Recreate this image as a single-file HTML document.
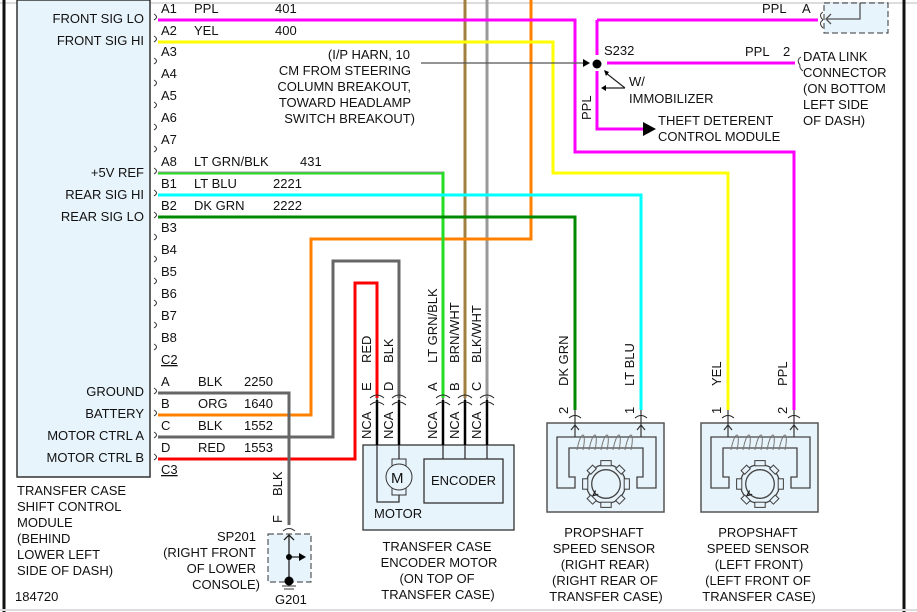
<!DOCTYPE html>
<html><head><meta charset="utf-8"><style>
html,body{margin:0;padding:0;background:#fff;}
svg{display:block;}
text{font-family:"Liberation Sans",Arial,sans-serif;font-size:13px;fill:#111;}
</style></head><body>
<svg width="917" height="612" viewBox="0 0 917 612" xmlns="http://www.w3.org/2000/svg">
<defs>
<g id="sens">
<rect x="0" y="0" width="117" height="89" fill="#e8f4fb" stroke="#555" stroke-width="1.5"/>
<path d="M10,65 L10,14 L109,14 L109,65 L90,65 L90,54 L96,54 L96,25 L22,25 L22,54 L28,54 L28,65 Z" fill="none" stroke="#444" stroke-width="1.3"/>
<path d="M30,27 C34,6 40,8 36,27 M42,27 C46,6 52,8 48,27 M54,27 C58,6 64,8 60,27 M66,27 C70,6 76,8 72,27 M78,27 C82,6 88,8 84,27" fill="none" stroke="#777" stroke-width="1"/>
<g transform="translate(59,61) scale(1.3) translate(-55,-67)">
<circle cx="55" cy="67" r="15" fill="#e8f4fb" stroke="#444" stroke-width="1"/>
<g fill="#e8f4fb" stroke="#444" stroke-width="0.8">
<rect x="51" y="49" width="8" height="4"/><rect x="51" y="81" width="8" height="4"/>
<rect x="37" y="63" width="4" height="8"/><rect x="69" y="63" width="4" height="8"/>
<rect x="41" y="54" width="6" height="4" transform="rotate(-45 44 56)"/><rect x="63" y="54" width="6" height="4" transform="rotate(45 66 56)"/>
<rect x="41" y="77" width="6" height="4" transform="rotate(45 44 79)"/><rect x="63" y="77" width="6" height="4" transform="rotate(-45 66 79)"/>
</g>
<circle cx="55" cy="67" r="11" fill="none" stroke="#444" stroke-width="1"/>
<path d="M47,72 l-2,4 l4,-1" fill="none" stroke="#222" stroke-width="1"/>
</g>
</g>
</defs>
<line x1="0" y1="3" x2="917" y2="3" stroke="#ddd" stroke-width="2"/>
<line x1="4" y1="0" x2="4" y2="612" stroke="#111" stroke-width="3"/>
<line x1="904" y1="0" x2="904" y2="612" stroke="#111" stroke-width="3"/>
<line x1="0" y1="610" x2="917" y2="610" stroke="#ddd" stroke-width="2"/>
<rect x="17" y="0" width="133" height="477" fill="#e8f4fb" stroke="#333" stroke-width="1.5"/>
<g text-anchor="end">
<text x="144" y="23">FRONT SIG LO</text><text x="144" y="45">FRONT SIG HI</text>
<text x="144" y="177">+5V REF</text><text x="144" y="199">REAR SIG HI</text><text x="144" y="221">REAR SIG LO</text>
<text x="144" y="396">GROUND</text><text x="144" y="418">BATTERY</text><text x="144" y="440">MOTOR CTRL A</text><text x="144" y="462">MOTOR CTRL B</text>
</g>
<g>
<text x="161" y="13">A1</text><text x="161" y="35">A2</text><text x="161" y="56">A3</text><text x="161" y="78">A4</text><text x="161" y="100">A5</text><text x="161" y="122">A6</text><text x="161" y="144">A7</text><text x="161" y="166">A8</text>
<text x="161" y="188">B1</text><text x="161" y="210">B2</text><text x="161" y="232">B3</text><text x="161" y="254">B4</text><text x="161" y="276">B5</text><text x="161" y="298">B6</text><text x="161" y="320">B7</text><text x="161" y="342">B8</text>
<text x="161" y="364" text-decoration="underline">C2</text>
<text x="161" y="386">A</text><text x="161" y="408">B</text><text x="161" y="430">C</text><text x="161" y="452">D</text>
<text x="161" y="474" text-decoration="underline">C3</text>
<text x="194" y="13">PPL</text><text x="275" y="13">401</text>
<text x="194" y="35">YEL</text><text x="275" y="35">400</text>
<text x="194" y="166">LT GRN/BLK</text><text x="300" y="166">431</text>
<text x="194" y="188">LT BLU</text><text x="273" y="188">2221</text>
<text x="194" y="210">DK GRN</text><text x="273" y="210">2222</text>
<text x="198" y="386">BLK</text><text x="244" y="386">2250</text>
<text x="198" y="408">ORG</text><text x="244" y="408">1640</text>
<text x="198" y="430">BLK</text><text x="244" y="430">1552</text>
<text x="198" y="452">RED</text><text x="244" y="452">1553</text>
</g>
<path d="M154,14 q5,3 0,6 M154,36 q5,3 0,6 M154,58 q5,3 0,6 M154,80 q5,3 0,6 M154,102 q5,3 0,6 M154,124 q5,3 0,6 M154,146 q5,3 0,6 M154,168 q5,3 0,6 M154,190 q5,3 0,6 M154,212 q5,3 0,6 M154,234 q5,3 0,6 M154,256 q5,3 0,6 M154,278 q5,3 0,6 M154,300 q5,3 0,6 M154,322 q5,3 0,6 M154,344 q5,3 0,6 M154,388 q5,3 0,6 M154,410 q5,3 0,6 M154,432 q5,3 0,6 M154,454 q5,3 0,6" fill="none" stroke="#333" stroke-width="1"/>
<g fill="none" stroke-width="3">
<line x1="465" y1="0" x2="465" y2="398" stroke="#a08040"/>
<line x1="487" y1="0" x2="487" y2="398" stroke="#999"/>
<path d="M531,0 V239 H311 V415 H158" stroke="#ff8000"/>
<path d="M158,20 H575 V152 H794 V410" stroke="#ff00ff"/>
<path d="M158,42 H553 V173 H728 V410" stroke="#ffff00"/>
<path d="M158,173 H443 V398" stroke="#22dd22"/>
<line x1="158" y1="172" x2="443" y2="172" stroke="#999" stroke-width="1"/>
<path d="M158,195 H641 V410" stroke="#00ffff"/>
<path d="M158,217 H575 V410" stroke="#008800"/>
<path d="M158,437 H333 V261 H399 V398" stroke="#666"/>
<path d="M158,459 H355 V283 H377 V398" stroke="#ff0000"/>
<path d="M158,393 H289 V525" stroke="#666"/>
<path d="M597,20 H818 M597,20 V55 M597,71 V129 H643 M607,63 H795" stroke="#ff00ff"/>
</g>
<path d="M643,122 L656,129 L643,136 Z" fill="#000"/>
<line x1="421" y1="63" x2="583" y2="63" stroke="#555" stroke-width="1.3"/>
<path d="M583,59 L590,63 L583,67 Z" fill="#000"/>
<circle cx="597" cy="64" r="4.5" fill="#000"/>
<path d="M625,88 L606,73 M625,88 L604,88" stroke="#222" stroke-width="1.2" fill="none"/>
<path d="M604,70 l2,6 l3,-4 Z M601,88 l5,-3 v6 Z" fill="#000"/>
<text x="604" y="55">S232</text>
<text x="629" y="86">W/</text><text x="629" y="103">IMMOBILIZER</text>
<text x="658" y="125">THEFT DETERENT</text><text x="658" y="141">CONTROL MODULE</text>
<text transform="translate(591,120) rotate(-90)">PPL</text>
<g text-anchor="end"><text x="410" y="59">(I/P HARN, 10</text><text x="411" y="75">CM FROM STEERING</text><text x="411" y="91">COLUMN BREAKOUT,</text><text x="411" y="107">TOWARD HEADLAMP</text><text x="415" y="123">SWITCH BREAKOUT)</text></g>
<text x="762" y="13">PPL</text><text x="802" y="13">A</text>
<path d="M823,12 q-5,3 0,8 M823,20 q-5,3 0,8" fill="none" stroke="#333"/>
<rect x="824" y="3" width="64" height="30" fill="#e8f4fb" stroke="#333" stroke-dasharray="6,3"/>
<path d="M860,3 V19 H826 M831,14 L826,19 L831,24" fill="none" stroke="#555" stroke-width="1.3"/>
<text x="745" y="56">PPL</text><text x="783" y="56">2</text>
<path d="M801,57 q-5,3 -1,8 M800,65 q-1,3 3,6" fill="none" stroke="#333"/>
<text x="803" y="61">DATA LINK</text><text x="803" y="77">CONNECTOR</text><text x="803" y="93">(ON BOTTOM</text><text x="803" y="109">LEFT SIDE</text><text x="803" y="125">OF DASH)</text>
<text x="17" y="495">TRANSFER CASE</text><text x="17" y="511">SHIFT CONTROL</text><text x="17" y="527">MODULE</text><text x="17" y="543">(BEHIND</text><text x="17" y="559">LOWER LEFT</text><text x="17" y="575">SIDE OF DASH)</text>
<text x="15" y="601">184720</text>
<text transform="translate(282,496) rotate(-90)">BLK</text>
<text transform="translate(282,523) rotate(-90)">F</text>
<path d="M283,531 q6,-5 12,0" fill="none" stroke="#333"/>
<rect x="268" y="534" width="43" height="48" fill="#e8f4fb" stroke="#333" stroke-dasharray="6,3"/>
<path d="M289,536 V582 M284,540 L289,535 L294,540 M289,557 H300" fill="none" stroke="#222" stroke-width="1.3"/>
<path d="M299,553 L306,557 L299,561 Z" fill="#000"/>
<circle cx="289" cy="557" r="3" fill="#000"/><circle cx="289" cy="581" r="4.5" fill="#000"/>
<path d="M282,586 H296 M284,589 H294" stroke="#333"/>
<text x="275" y="604">G201</text>
<g text-anchor="end"><text x="256" y="541">SP201</text><text x="256" y="557">(RIGHT FRONT</text><text x="256" y="573">OF LOWER</text><text x="260" y="589">CONSOLE)</text></g>
<rect x="363" y="445" width="151" height="85" fill="#e8f4fb" stroke="#333" stroke-width="1.3"/>
<rect x="424" y="459" width="79" height="44" fill="#e8f4fb" stroke="#333" stroke-width="1.3"/>
<text x="431" y="485">ENCODER</text>
<text x="374" y="518">MOTOR</text>
<path d="M377,398 V502 H399 V490 M399,398 V464" fill="none" stroke="#333" stroke-width="1.3"/>
<path d="M443,398 V459 M465,398 V459 M487,398 V459" stroke="#333" stroke-width="1.3"/>
<path d="M377,400 V445 M399,400 V445 M443,400 V445 M465,400 V445 M487,400 V445" stroke="#000" stroke-width="2.5"/>
<rect x="392" y="459" width="14" height="36" fill="#e8f4fb" stroke="#333"/>
<circle cx="399" cy="477" r="13" fill="#e8f4fb" stroke="#333"/>
<text x="391" y="483" style="font-size:15px">M</text>
<g fill="none" stroke="#222" stroke-width="1">
<path d="M370,398 q7,-6 14,0 M392,398 q7,-6 14,0 M436,398 q7,-6 14,0 M458,398 q7,-6 14,0 M480,398 q7,-6 14,0"/>
<path d="M370,405 q7,-6 14,0 M392,405 q7,-6 14,0 M436,405 q7,-6 14,0 M458,405 q7,-6 14,0 M480,405 q7,-6 14,0"/>
</g>
<g>
<text transform="translate(371,363) rotate(-90)">RED</text><text transform="translate(393,363) rotate(-90)">BLK</text>
<text transform="translate(437,363) rotate(-90)">LT GRN/BLK</text><text transform="translate(459,363) rotate(-90)">BRN/WHT</text><text transform="translate(481,363) rotate(-90)">BLK/WHT</text>
<text transform="translate(371,391) rotate(-90)">E</text><text transform="translate(393,391) rotate(-90)">D</text>
<text transform="translate(437,391) rotate(-90)">A</text><text transform="translate(459,391) rotate(-90)">B</text><text transform="translate(481,391) rotate(-90)">C</text>
<text transform="translate(371,439) rotate(-90)">NCA</text><text transform="translate(393,439) rotate(-90)">NCA</text>
<text transform="translate(437,439) rotate(-90)">NCA</text><text transform="translate(459,439) rotate(-90)">NCA</text><text transform="translate(481,439) rotate(-90)">NCA</text>
</g>
<g text-anchor="middle"><text x="437" y="551">TRANSFER CASE</text><text x="439" y="567">ENCODER MOTOR</text><text x="437" y="583">(ON TOP OF</text><text x="438" y="599">TRANSFER CASE)</text></g>
<use href="#sens" x="547" y="423"/>
<use href="#sens" x="701" y="423"/>
<path d="M575,410 V437 M641,410 V437 M728,410 V437 M794,410 V437 M571,430 L575,425 L579,430 M637,430 L641,425 L645,430 M724,430 L728,425 L732,430 M790,430 L794,425 L798,430" fill="none" stroke="#333" stroke-width="1.2"/>
<path d="M569,418 q6,-5 12,0 M635,418 q6,-5 12,0 M722,418 q6,-5 12,0 M788,418 q6,-5 12,0" fill="none" stroke="#222"/>
<g>
<text transform="translate(568,386) rotate(-90)">DK GRN</text><text transform="translate(634,386) rotate(-90)">LT BLU</text>
<text transform="translate(721,386) rotate(-90)">YEL</text><text transform="translate(787,386) rotate(-90)">PPL</text>
<text transform="translate(568,414) rotate(-90)">2</text><text transform="translate(634,414) rotate(-90)">1</text>
<text transform="translate(721,414) rotate(-90)">1</text><text transform="translate(787,414) rotate(-90)">2</text>
</g>
<g text-anchor="middle">
<text x="604" y="537">PROPSHAFT</text><text x="604" y="553">SPEED SENSOR</text><text x="605" y="569">(RIGHT REAR)</text><text x="605" y="585">(RIGHT REAR OF</text><text x="606" y="601">TRANSFER CASE)</text>
<text x="758" y="537">PROPSHAFT</text><text x="758" y="553">SPEED SENSOR</text><text x="759" y="569">(LEFT FRONT)</text><text x="758" y="585">(LEFT FRONT OF</text><text x="759" y="601">TRANSFER CASE)</text>
</g>
</svg>
</body></html>
